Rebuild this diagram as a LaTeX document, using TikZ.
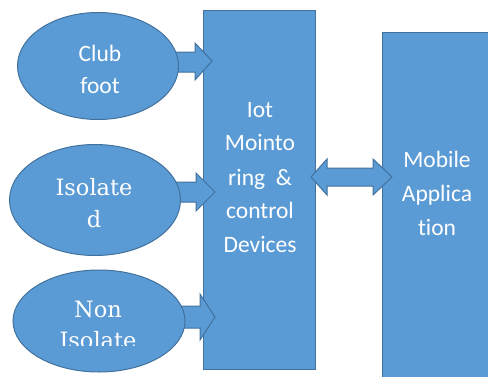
\documentclass[tikz,border=0pt]{standalone}
\usepackage{fontspec}
\usetikzlibrary{shapes.geometric}
\setmainfont{Carlito}[Ligatures=NoCommon]
\newfontfamily\serifface{DejaVu Serif}[Ligatures=NoCommon]
\definecolor{boxblue}{HTML}{5B9BD5}
\definecolor{edgeblue}{HTML}{41719C}
\begin{document}
\begin{tikzpicture}[x=1pt,y=-1pt,
  shapefill/.style={fill=boxblue, draw=edgeblue, line width=1pt},
  blockbox/.style={shapefill, rectangle, inner sep=0pt},
  oval/.style={shapefill, ellipse, inner sep=0pt},
  sanslbl/.style={text=white, anchor=base, inner sep=0pt, font=\fontsize{23.5}{34}\selectfont},
  seriflbl/.style={text=white, anchor=base, inner sep=0pt, font=\serifface\fontsize{22.5}{32}\selectfont}]
\useasboundingbox (0,0) rectangle (488,376);
% boxes
\node[blockbox, minimum width=112pt, minimum height=359pt] (mid) at (259,189.5) {};
\node[blockbox, minimum width=110pt, minimum height=350pt] (app) at (437,207) {};
% arrows
\draw[shapefill] (170,52)--(195,52)--(195,43)--(212,61)--(195,80)--(195,72)--(170,72)--cycle;
\draw[shapefill] (170,182)--(196,182)--(196,173)--(215,192)--(196,211)--(196,202)--(170,202)--cycle;
\draw[shapefill] (175,306)--(200,306)--(200,294)--(215,317)--(200,340)--(200,328)--(175,328)--cycle;
\draw[shapefill] (311,177)--(327,159)--(327,168)--(373,168)--(373,159)--(392,177)--(373,195)--(373,186)--(327,186)--(327,195)--cycle;
% ellipses
\node[oval, minimum width=161pt, minimum height=107pt] (e1) at (98,66) {};
\node[oval, minimum width=171pt, minimum height=111pt] (e2) at (95,200) {};
\node[oval, minimum width=172pt, minimum height=102pt] (e3) at (99,321) {};
% texts
\node[sanslbl] (m1) at (260,117) {Iot};
\node[sanslbl] (m2) at (260,150) {Mointo};
\node[sanslbl] (m3) at (260,185) {ring\ \ \&};
\node[sanslbl] (m4) at (260,218) {control};
\node[sanslbl] (m5) at (260,252) {Devices};
\node[sanslbl] (a1) at (437,167) {Mobile};
\node[sanslbl] (a2) at (437,201) {Applica};
\node[sanslbl] (a3) at (437,235) {tion};
\node[sanslbl] (c1) at (100,61) {Club};
\node[sanslbl] (c2) at (100,93) {foot};
\node[seriflbl] (i1) at (94,195) {Isolate};
\node[seriflbl] (i2) at (94,227) {d};
\begin{scope}
\clip (0,0) rectangle (488,345.5);
\node[seriflbl] (n1) at (98,317) {Non};
\node[seriflbl] (n2) at (98,348) {Isolate};
\end{scope}
\end{tikzpicture}
\end{document}
